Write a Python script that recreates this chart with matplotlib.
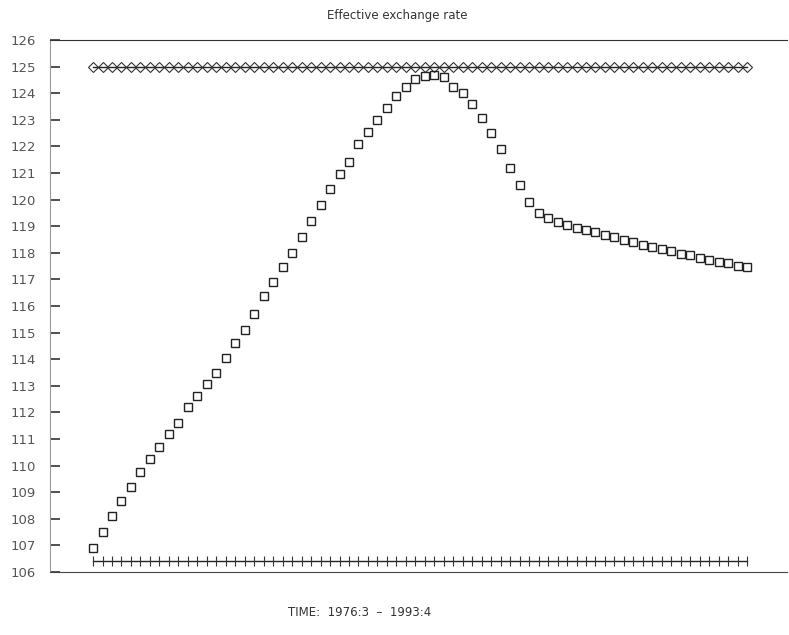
import matplotlib
matplotlib.use("Agg")
import matplotlib.pyplot as plt
import numpy as np

# Quarterly periods 1976:3 - 1993:4 (70 quarters)
periods = [f"{1976 + (q + 2) // 4}:{(q + 2) % 4 + 1}" for q in range(70)]

exchange_rate = [
    106.9, 107.5, 108.1, 108.66, 109.2, 109.75, 110.25, 110.7, 111.2, 111.6,
    112.2, 112.6, 113.06, 113.5, 114.06, 114.6, 115.1, 115.7, 116.36, 116.9,
    117.45, 118.0, 118.6, 119.2, 119.8, 120.4, 120.95, 121.4, 122.1, 122.55,
    123.0, 123.45, 123.9, 124.25, 124.55, 124.65, 124.7, 124.6, 124.25, 124.0,
    123.6, 123.05, 122.5, 121.9, 121.2, 120.55, 119.9, 119.5, 119.3, 119.15,
    119.05, 118.95, 118.87, 118.78, 118.68, 118.58, 118.48, 118.4, 118.3, 118.22,
    118.13, 118.05, 117.97, 117.9, 117.82, 117.74, 117.66, 117.6, 117.52, 117.45,
]
upper_level = [125.0] * 70
lower_level = [106.4] * 70

y_ticks = list(range(106, 127))

W, H = 789, 635
fig = plt.figure(figsize=(W / 100, H / 100), dpi=100)
left, right, top, bottom = 50, 787, 40, 572
ax = fig.add_axes([left / W, 1 - bottom / H, (right - left) / W, (bottom - top) / H])

x = np.arange(len(periods))
ax.plot(x, upper_level, color="#222222", lw=1.0, marker="D", ms=5,
        mfc="none", mec="#333333", mew=0.8)
ax.plot(x, lower_level, color="#222222", lw=1.0, marker="|", ms=7,
        mec="#333333", mew=0.8)
ax.plot(x, exchange_rate, ls="none", marker="s", ms=5.5,
        mfc="none", mec="#222222", mew=1.0)

ax.set_xlim(-4.54, 73.2)
ax.set_ylim(106, 126)
ax.set_yticks(y_ticks)
ax.set_yticklabels([str(v) for v in y_ticks], color="#555555", fontsize=9.5,
                   family="DejaVu Sans")
ax.set_xticks([])
ax.tick_params(axis="y", direction="in", length=7, width=1.2, color="#333333", pad=10)

ax.spines["right"].set_visible(False)
ax.spines["left"].set_color("#999999")
ax.spines["left"].set_linewidth(0.8)
ax.spines["top"].set_color("#333333")
ax.spines["bottom"].set_color("#444444")

fig.text(397 / W, 1 - 16 / H, "Effective exchange rate", ha="center", va="center",
         fontsize=8.5, color="#333333")
fig.text(360 / W, 1 - 612 / H, f"TIME:  {periods[0]}  \u2013  {periods[-1]}",
         ha="center", va="center", fontsize=8.5, color="#333333")

fig.savefig("out.png", dpi=100, facecolor="white")
